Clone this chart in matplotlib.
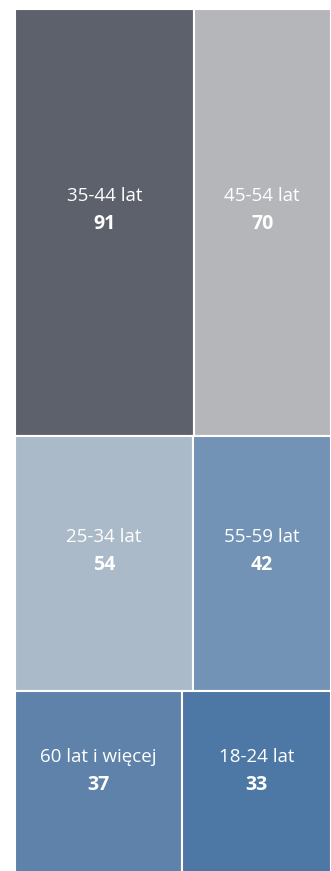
import matplotlib.pyplot as plt
import matplotlib.patches as mpatches

# treemap data, grouped into rows (slice-and-dice layout)
rows = [
    ["35-44 lat", "45-54 lat"],
    ["25-34 lat", "55-59 lat"],
    ["60 lat i więcej", "18-24 lat"],
]
values = [
    [91, 70],
    [54, 42],
    [37, 33],
]
colors = [
    ["#5d616b", "#b5b6ba"],
    ["#abbac8", "#7293b5"],
    ["#5f82aa", "#4d77a4"],
]

plt.rcParams['font.family'] = ['Open Sans', 'DejaVu Sans']

fig = plt.figure(figsize=(3.31, 8.71), dpi=100)
ax = fig.add_axes([15 / 331, -6 / 871, 316 / 331, 868 / 871])
total = sum(sum(r) for r in values)
ax.set_xlim(0, 1)
ax.set_ylim(total, 0)
ax.axis('off')

y = 0
for labels, vals, cols in zip(rows, values, colors):
    row_sum = sum(vals)
    x = 0
    for lab, v, c in zip(labels, vals, cols):
        w = v / row_sum
        ax.add_patch(mpatches.Rectangle((x, y), w, row_sum, facecolor=c,
                                        edgecolor='white', linewidth=1.5))
        cx = x + w / 2
        cy = y + row_sum / 2
        ax.annotate(lab, (cx, cy), xytext=(0, 27), textcoords='offset pixels',
                    ha='center', va='center', color='white', fontsize=13.5)
        ax.annotate(str(v), (cx, cy), xytext=(0, -1), textcoords='offset pixels',
                    ha='center', va='center', color='white', fontsize=14,
                    fontweight='bold')
        x += w
    y += row_sum

fig.savefig('out.png', dpi=100)
